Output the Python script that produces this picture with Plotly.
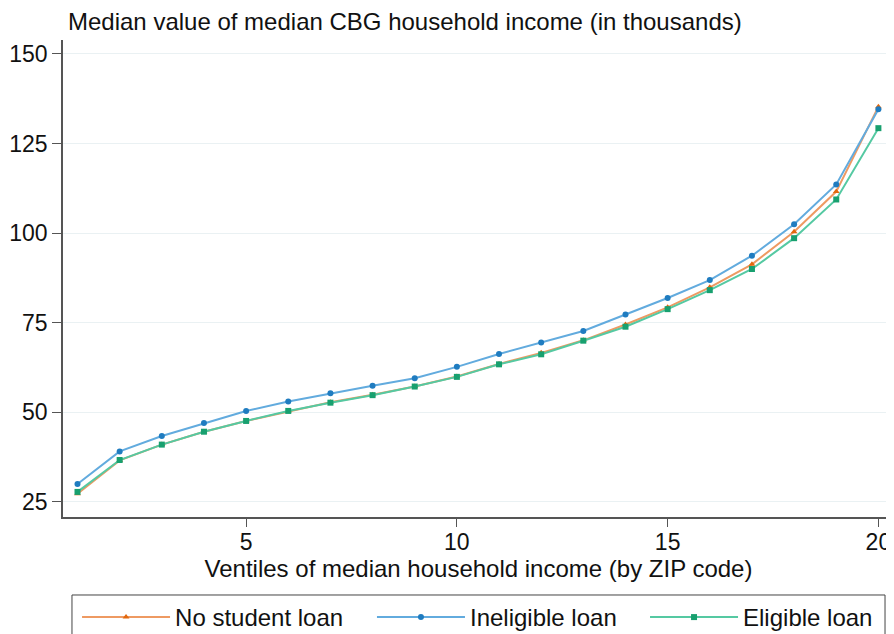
import plotly.graph_objects as go

ventiles = list(range(1, 21))
no_student_loan = [27.3, 36.6, 41.0, 44.6, 47.6, 50.3, 52.8, 54.9, 57.2, 60.0,
                   63.5, 66.6, 70.1, 74.5, 79.3, 84.9, 91.3, 100.4, 111.6, 135.3]
ineligible_loan = [30.0, 39.1, 43.4, 47.0, 50.4, 53.0, 55.3, 57.4, 59.5, 62.7,
                   66.3, 69.5, 72.7, 77.3, 81.9, 86.9, 93.7, 102.5, 113.6, 134.6]
eligible_loan = [27.8, 36.7, 41.0, 44.6, 47.6, 50.4, 52.7, 54.8, 57.2, 59.9,
                 63.4, 66.2, 70.0, 73.9, 78.8, 84.1, 90.0, 98.6, 109.4, 129.3]

y_ticks = [25, 50, 75, 100, 125, 150]
x_ticks = [5, 10, 15, 20]

series = [
    ("No student loan", no_student_loan, "#EE9A62", "#E2680E", "triangle-up", "legend", 0.0169),
    ("Ineligible loan", ineligible_loan, "#62ABDE", "#1F7CC0", "circle", "legend2", 0.3718),
    ("Eligible loan", eligible_loan, "#55C9A2", "#18A06F", "square", "legend3", 0.7004),
]

FONT = "Liberation Sans, Arial, sans-serif"
FS = 24
TFS = 23
LEG_Y = -0.1635

fig = go.Figure()
legends = {}
for name, vals, lc, mc, sym, leg, lx in series:
    fig.add_trace(go.Scatter(
        x=ventiles, y=vals, name=name, mode="lines+markers",
        line=dict(color=lc, width=2),
        marker=dict(symbol=sym, color=mc, size=6, line=dict(width=0)),
        legend=leg,
    ))
    legends[leg] = dict(
        orientation="h", x=lx, y=LEG_Y, xanchor="left", yanchor="top",
        borderwidth=0, bgcolor="rgba(0,0,0,0)",
        font=dict(size=FS, family=FONT, color="#111111"), itemwidth=88,
    )

# page body has an 8px margin, so the figure is sized/offset to fit the 894x634 window
fig.update_layout(
    width=886, height=626,
    margin=dict(l=55, r=0, t=32, b=117, autoexpand=False),
    paper_bgcolor="white", plot_bgcolor="white",
    font=dict(family=FONT, size=FS, color="#111111"),
    showlegend=True,
    annotations=[dict(
        text="Median value of median CBG household income (in thousands)",
        xref="paper", yref="paper", x=0.0, y=1.0, xanchor="left", yanchor="bottom",
        xshift=3, yshift=3, showarrow=False, font=dict(size=FS, family=FONT, color="#111111"),
    )],
    shapes=[dict(
        type="rect", xref="paper", yref="paper", x0=0.0108, x1=0.9892, y0=LEG_Y, y1=-0.30,
        line=dict(color="#444444", width=1), fillcolor="rgba(0,0,0,0)", layer="above",
    )],
    **legends,
)

fig.update_yaxes(
    range=[20.8, 153.9], tickvals=y_ticks, ticktext=[str(v) for v in y_ticks],
    showgrid=True, gridcolor="#EAF1F3", gridwidth=1,
    showline=True, linecolor="#555555", linewidth=1.5,
    ticks="outside", ticklen=9, tickcolor="#555555", tickwidth=1.2,
    zeroline=False, tickfont=dict(size=TFS), automargin=False,
)
fig.update_xaxes(
    range=[0.656, 20.37], tickvals=x_ticks, ticktext=[str(v) for v in x_ticks],
    showgrid=False,
    showline=True, linecolor="#555555", linewidth=1.5,
    ticks="outside", ticklen=8, tickcolor="#555555", tickwidth=1.2,
    zeroline=False, tickfont=dict(size=TFS), automargin=False,
    ticklabelstandoff=-4,
    title=dict(text="Ventiles of median household income (by ZIP code)", standoff=4,
               font=dict(size=FS)),
)

fig.write_html("out.html")
